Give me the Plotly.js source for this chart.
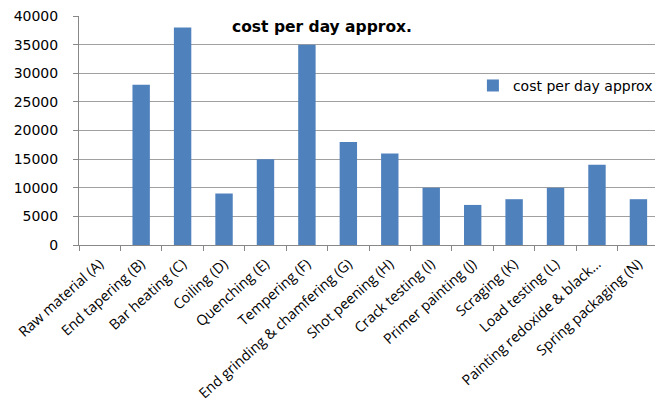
<!DOCTYPE html>
<html><head><meta charset="utf-8">
<script src="https://cdn.plot.ly/plotly-3.0.1.min.js"></script>
<style>html,body{margin:0;padding:0;background:#fff}#chart{width:655px;height:407px}</style>
</head><body><div id="chart"></div>
<script>
const categories = ["Raw material (A)","End tapering (B)","Bar heating (C)","Coiling (D)","Quenching (E)","Tempering (F)","End grinding & chamfering (G)","Shot peening (H)","Crack testing (I)","Primer painting (J)","Scraging (K)","Load testing (L)","Painting redoxide & black…","Spring packaging (N)"];
const costPerDay = [0,28000,38000,9000,15000,35000,18000,16000,10000,7000,8000,10000,14000,8000];
const yTicks = [0,5000,10000,15000,20000,25000,30000,35000,40000];

const font = "DejaVu Sans, sans-serif";
Plotly.newPlot("chart", [{
  type: "bar", x: categories, y: costPerDay, name: "cost per day approx",
  marker: {color: "#4F81BD", line: {width: 0}}
}], {
  width: 655, height: 407,
  margin: {l: 79, r: 0, t: 16, b: 162, autoexpand: false},
  paper_bgcolor: "#fff", plot_bgcolor: "#fff",
  bargap: 0.58,
  title: {text: "<b>cost per day approx.</b>", font: {family: font, size: 15.5, color: "#000"},
    xref: "container", x: 0.4916, xanchor: "center", yref: "container", y: 0.934, yanchor: "middle"},
  xaxis: {type: "category", range: [-0.5, 13.4], tickangle: -42, tickson: "boundaries",
    ticks: "outside", ticklen: 5, tickcolor: "#888", showline: true, linecolor: "#888", linewidth: 1,
    ticklabelstandoff: 4,
    showgrid: false, tickfont: {family: "Open Sans, sans-serif", size: 14.3, color: "#000"}, automargin: false},
  yaxis: {range: [0, 40000], tickvals: yTicks, ticktext: yTicks.map(String), showgrid: true,
    gridcolor: "#A0A0A0", gridwidth: 1, showline: true, linecolor: "#888", zeroline: false,
    ticks: "outside", ticklen: 5, tickcolor: "#888", ticklabelstandoff: 12,
    tickfont: {family: font, size: 14, color: "#000"}, automargin: false},
  showlegend: true,
  legend: {xref: "container", yref: "container", x: 0.722, y: 0.789, xanchor: "left", yanchor: "middle",
    bgcolor: "rgba(0,0,0,0)", font: {family: font, size: 14, color: "#000"}, itemwidth: 30}
}, {displayModeBar: false, staticPlot: true});
</script></body></html>
